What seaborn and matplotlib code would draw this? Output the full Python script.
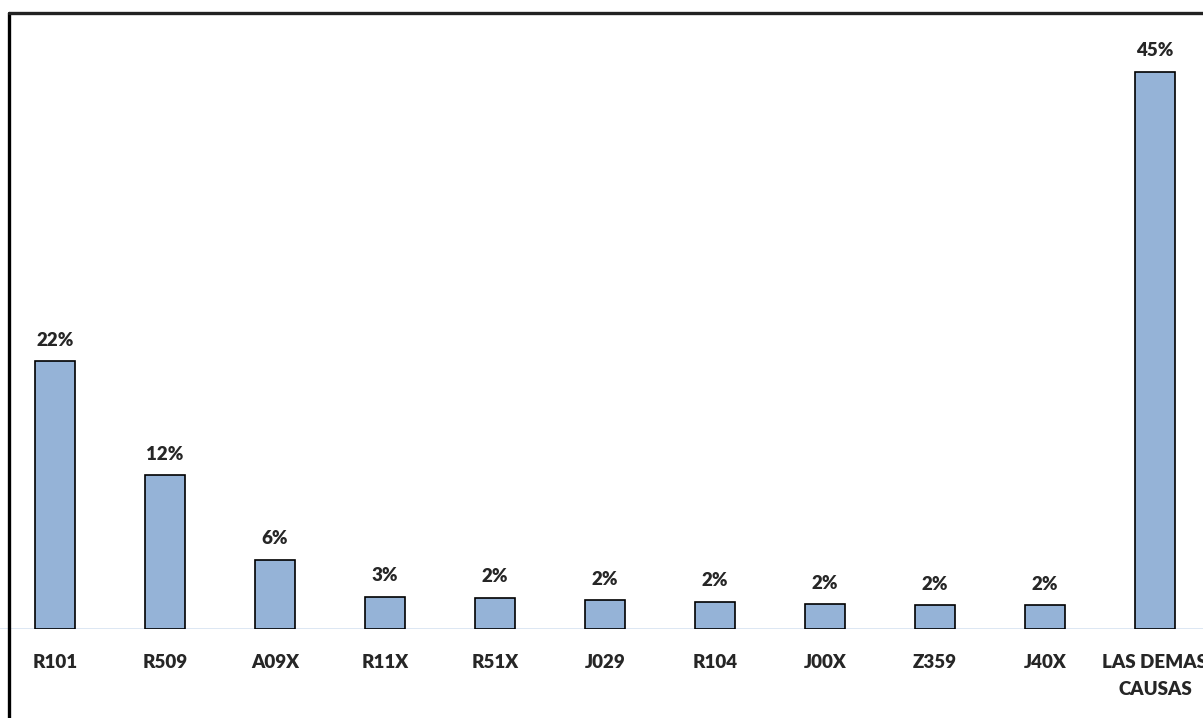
import numpy as np
import pandas as pd
import matplotlib
matplotlib.use('Agg')
import matplotlib.pyplot as plt
from matplotlib.lines import Line2D
import seaborn as sns

# ---- data ----
causes = ['R101', 'R509', 'A09X', 'R11X', 'R51X', 'J029', 'R104', 'J00X',
          'Z359', 'J40X', 'LAS DEMAS\nCAUSAS']
share = [21.6, 12.4, 5.6, 2.6, 2.5, 2.3, 2.2, 2.0, 1.9, 1.9, 44.9]
labels = ['22%', '12%', '6%', '3%', '2%', '2%', '2%', '2%', '2%', '2%', '45%']

df = pd.DataFrame({'cause': causes, 'share': share})

sns.set_style('white')
plt.rcParams['font.family'] = ['Lato', 'DejaVu Sans']

W, H = 1203, 718
fig = plt.figure(figsize=(W / 100, H / 100), dpi=100)
# axes: baseline at y=629px, top at y=13px, category spacing 110px, first centre at 55px
ax = fig.add_axes([0, (H - 629) / H, 1, (629 - 13) / H])

sns.barplot(data=df, x='cause', y='share', color='#95B3D7', saturation=1,
            width=0.36, edgecolor='black', linewidth=1.2, ax=ax)

ax.set_xlim(-0.5, (W - 55) / 110)
ymax = 44.9 * 616 / 557
ax.set_ylim(0, ymax)

for i, (v, lab) in enumerate(zip(share, labels)):
    ax.annotate(lab, (i, v), xytext=(0, 9), textcoords='offset points',
                ha='center', va='bottom', fontsize=13.5, fontweight='heavy',
                color='#262626')

ax.axhline(0, color='#D3E0F0', linewidth=1.8, zorder=0)
for s in ax.spines.values():
    s.set_visible(False)
ax.set_yticks([])
ax.set_xlabel('')
ax.set_ylabel('')
# last label runs past the right edge, as in the reference
ax.tick_params(axis='x', length=0, pad=18, labelsize=13.5, labelcolor='#262626')
for t in ax.get_xticklabels():
    t.set_fontweight('heavy')
    t.set_linespacing(1.7)

# outer chart frame (left and top edges visible)
fig.add_artist(Line2D([9 / W, 9 / W], [0, (H - 13) / H], color='black', lw=2.4,
                      transform=fig.transFigure))
fig.add_artist(Line2D([9 / W, 1], [(H - 13) / H, (H - 13) / H], color='#222222', lw=2.4,
                      transform=fig.transFigure))

fig.savefig('out.png', dpi=100)
